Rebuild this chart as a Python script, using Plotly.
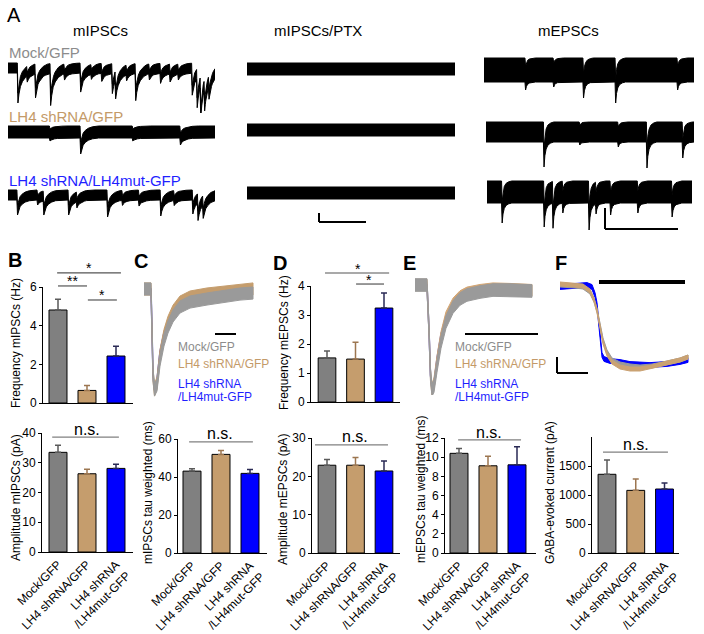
import numpy as np
import plotly.graph_objects as go

W, H = 704, 634
FONT = "Liberation Sans, Arial, Helvetica, sans-serif"

# ---------------- colours ----------------
GRAY, TAN, BLUE = "#808080", "#c59d6d", "#0000ff"
TXT_GRAY, TXT_TAN, TXT_BLUE = "#8c8c8c", "#c49a68", "#1f1fff"
ERR_COLORS = ["#5a5a5a", "#9c7650", "#2a2a55"]
BAR_COLORS = [GRAY, TAN, BLUE]

# ---------------- categories ----------------
GROUPS = ["Mock/GFP", "LH4 shRNA/GFP", "LH4 shRNA<br>/LH4mut-GFP"]

# ---------------- bar data ----------------
FREQ_MIPSC = [4.81, 0.65, 2.43]
FREQ_MIPSC_ERR = [0.56, 0.25, 0.51]
AMP_MIPSC = [33.5, 26.3, 28.1]
AMP_MIPSC_ERR = [2.4, 1.5, 1.4]
TAU_MIPSC = [43.1, 51.9, 41.9]
TAU_MIPSC_ERR = [1.3, 2.1, 2.1]
FREQ_MEPSC = [1.52, 1.48, 3.24]
FREQ_MEPSC_ERR = [0.24, 0.58, 0.52]
AMP_MEPSC = [22.9, 22.9, 21.4]
AMP_MEPSC_ERR = [1.5, 2.0, 2.6]
TAU_MEPSC = [10.4, 9.1, 9.2]
TAU_MEPSC_ERR = [0.5, 1.0, 1.9]
GABA_CURRENT = [1357, 1080, 1103]
GABA_CURRENT_ERR = [246, 195, 103]

# ---------------- panel A: event times (% of sweep) and amplitudes ----------------
MOCK_MIPSC_T = [4.5, 9, 13, 20.3, 27, 34.8, 40, 45, 50.1, 51.7, 57, 61.4, 68, 73.4, 78, 82, 88.7, 91.1, 92.8, 94.7, 96.8]
MOCK_MIPSC_A = [30, 6, 24, 32, 6, 19, 5, 8, 20, 18, 6, 27, 6, 10, 8, 6, 22, 29, 32, 22, 14]
SH_MIPSC_T = [20, 34.8, 60, 83]
SH_MIPSC_A = [3, 16, 3, 7]
RES_MIPSC_T = [4.3, 14, 17, 29, 33, 47.8, 55, 63, 73.5, 80, 89, 91.5, 94]
RES_MIPSC_A = [15, 5, 14, 15, 6, 17, 5, 6, 16, 5, 14, 17, 13]

MOCK_PTX_T, MOCK_PTX_A = [], []
SH_PTX_T, SH_PTX_A = [], []
RES_PTX_T, RES_PTX_A = [], []

MOCK_MEPSC_T = [19.5, 32.9, 47.1, 62.4, 91.9]
MOCK_MEPSC_A = [8, 5, 16, 21, 8]
SH_MEPSC_T = [27.6, 44.8, 63.3, 77.1, 94.3]
SH_MEPSC_A = [25, 3, 5, 26, 16]
RES_MEPSC_T = [7.1, 27.6, 31.9, 36.7, 49.5, 52.9, 60, 73.3, 90]
RES_MEPSC_A = [20, 24, 25, 10, 27, 10, 12, 10, 14]

# event waveform templates (time offset, fraction of peak)
IPSC_KT = [0, 0.3, 0.8, 1.5, 2.5, 4, 6, 9]
IPSC_KA = [0, -1, -0.7, -0.45, -0.28, -0.14, -0.05, 0]
EPSC_KT = [0, 0.3, 0.7, 1.3, 2.2, 3.5, 5]
EPSC_KA = [0, -1, -0.55, -0.28, -0.12, -0.04, 0]

# ---------------- averaged traces (C, E, F), normalised ----------------
C_T = [1, 8, 9, 10, 11.5, 14, 17, 21, 25, 30, 37, 47, 64, 82, 97, 110]
C_GRAY = [0, 0, -0.406, -0.851, -1.0, -0.95, -0.703, -0.505, -0.376, -0.267, -0.178, -0.129, -0.099, -0.069, -0.05, -0.04]
C_TAN = [0, 0, -0.406, -0.851, -1.0, -0.93, -0.66, -0.46, -0.33, -0.22, -0.13, -0.08, -0.05, -0.03, -0.01, 0.0]
C_BLUE = [0, 0, -0.406, -0.851, -1.0, -0.9, -0.62, -0.43, -0.31, -0.21, -0.14, -0.1, -0.07, -0.05, -0.03, -0.02]

E_T = [1, 13, 15, 16.5, 18, 20, 23, 27, 32, 39, 46, 53, 66, 79, 96, 118]
E_GRAY = [0, 0, -0.43, -0.86, -1.0, -0.962, -0.771, -0.543, -0.352, -0.21, -0.133, -0.095, -0.067, -0.048, -0.048, -0.057]
E_TAN = [0, 0, -0.43, -0.86, -1.0, -0.94, -0.73, -0.5, -0.31, -0.18, -0.11, -0.075, -0.05, -0.035, -0.04, -0.05]
E_BLUE = [0, 0, -0.43, -0.86, -1.0, -0.93, -0.7, -0.47, -0.29, -0.17, -0.1, -0.07, -0.05, -0.04, -0.04, -0.05]

F_T = [2, 17, 25, 32, 36, 39, 42, 45, 49, 54, 62, 72, 82, 94, 109, 122, 130]
F_GRAY = [0, -0.0125, -0.025, -0.0875, -0.1875, -0.3125, -0.5, -0.6875, -0.8375, -0.9375, -0.9875, -1.0125, -1.025, -1.0125, -0.975, -0.9375, -0.9]
F_TAN = [0.0125, 0, -0.0125, -0.075, -0.1875, -0.325, -0.525, -0.7125, -0.8625, -0.9625, -1.025, -1.05, -1.05, -1.025, -0.975, -0.9375, -0.9]
F_BLUE_T = [2, 17, 29, 34, 37, 39, 41, 43, 44, 46, 52, 62, 72, 92, 109, 122, 130]
F_BLUE = [-0.025, -0.0125, 0, -0.025, -0.125, -0.25, -0.5, -0.75, -0.875, -0.925, -0.95, -0.9625, -0.9875, -1.0, -0.9875, -0.9625, -0.9375]

# =====================================================================
fig = go.Figure()
axes = {}
count = [0]


def dx(l, r):
    return [l / W, r / W]


def dy(top, bottom):
    return [1 - bottom / H, 1 - top / H]


def new_axes(xdom, ydom, xr, yr, xo=None, yo=None):
    count[0] += 1
    s = "" if count[0] == 1 else str(count[0])
    xa = dict(domain=xdom, range=xr, anchor="y" + s, visible=False, fixedrange=True, automargin=False)
    ya = dict(domain=ydom, range=yr, anchor="x" + s, visible=False, fixedrange=True, automargin=False)
    if xo:
        xa.update(xo)
    if yo:
        ya.update(yo)
    axes["xaxis" + s] = xa
    axes["yaxis" + s] = ya
    return "x" + s, "y" + s


def band(xa, ya, t, v, half, color, lw=1.0):
    t = list(t)
    up = [a + half for a in v]
    lo = [a - half for a in v]
    fig.add_trace(go.Scatter(x=t + t[::-1], y=up + lo[::-1], fill="toself", fillcolor=color,
                             mode="lines", line=dict(color=color, width=lw),
                             xaxis=xa, yaxis=ya, hoverinfo="skip"))


def event_trace(ev_t, ev_a, kt, ka):
    pts = {0.0, 100.0}
    for te in ev_t:
        for k in kt:
            if 0 <= te + k <= 100:
                pts.add(round(te + k, 3))
    ts = np.array(sorted(pts))
    v = np.zeros_like(ts)
    for te, a in zip(ev_t, ev_a):
        v += a * np.interp(ts - te, kt, ka, left=0, right=0)
    return ts.tolist(), v.tolist()


# ---------------- panel A traces ----------------
A_ROWS = [
    (8, 215, 68, MOCK_MIPSC_T, MOCK_MIPSC_A, "I", 5),
    (8, 215, 132, SH_MIPSC_T, SH_MIPSC_A, "I", 6),
    (8, 215, 195, RES_MIPSC_T, RES_MIPSC_A, "I", 5),
    (247, 455, 69, MOCK_PTX_T, MOCK_PTX_A, "I", 6),
    (247, 455, 130, SH_PTX_T, SH_PTX_A, "I", 6),
    (247, 455, 193, RES_PTX_T, RES_PTX_A, "I", 6),
    (484, 694, 70, MOCK_MEPSC_T, MOCK_MEPSC_A, "E", 12),
    (486, 694, 132, SH_MEPSC_T, SH_MEPSC_A, "E", 10),
    (487, 692, 192, RES_MEPSC_T, RES_MEPSC_A, "E", 11),
]
for l, r, c, et, ea, kind, half in A_ROWS:
    xa, ya = new_axes(dx(l, r), dy(c - 20, c + 45), [0, 100], [-45, 20])
    kt, ka = (IPSC_KT, IPSC_KA) if kind == "I" else (EPSC_KT, EPSC_KA)
    ts, v = event_trace(et, ea, kt, ka)
    band(xa, ya, ts, v, half, "black", 1.0)

# ---------------- C, E, F averaged traces ----------------
xa, ya = new_axes(dx(143, 256), dy(270, 398), [0, 113], [-1.079, 0.188])
fig.add_trace(go.Scatter(x=C_T, y=C_BLUE, mode="lines", line=dict(color="#2b2bd0", width=1.5),
                         xaxis=xa, yaxis=ya, hoverinfo="skip"))
band(xa, ya, C_T, C_TAN, 0.06, TAN)
band(xa, ya, C_T, C_GRAY, 0.06, "#9a9a9a")

xa, ya = new_axes(dx(414, 536), dy(270, 395), [0, 122], [-1.048, 0.143])
fig.add_trace(go.Scatter(x=E_T, y=E_BLUE, mode="lines", line=dict(color="#2b2bd0", width=1.5),
                         xaxis=xa, yaxis=ya, hoverinfo="skip"))
band(xa, ya, E_T, E_TAN, 0.055, "#d2a574")
band(xa, ya, E_T, E_GRAY, 0.06, "#9a9a9a")

xa, ya = new_axes(dx(558, 690), dy(278, 376), [0, 132], [-1.1375, 0.0875])
band(xa, ya, F_BLUE_T, F_BLUE, 0.03, BLUE)
band(xa, ya, F_T, F_GRAY, 0.025, "#9a9a9a")
band(xa, ya, F_T, F_TAN, 0.025, "#caa273")

# ---------------- bar panels ----------------
shapes = []
annots = []


def bar_panel(vals, errs, L, R, c0, sp, top, bottom, ymax, tickvals, labels):
    xr = [(L - c0) / sp, (R - c0) / sp]
    xo = dict(visible=True, showline=True, linecolor="black", linewidth=1, ticks="",
              showgrid=False, zeroline=False, tickvals=[0, 1, 2], ticktext=GROUPS,
              showticklabels=labels, tickangle=-45,
              tickfont=dict(size=12, color="black", family=FONT))
    yo = dict(visible=True, showline=True, linecolor="black", linewidth=1, ticks="outside",
              ticklen=3, tickwidth=1, tickcolor="black", showgrid=False, zeroline=False,
              tickvals=tickvals, tickfont=dict(size=12, color="black", family=FONT))
    xa, ya = new_axes(dx(L, R), dy(top, bottom), xr, [0, ymax], xo, yo)
    for i in range(3):
        fig.add_trace(go.Bar(x=[i], y=[vals[i]], width=0.62,
                             marker=dict(color=BAR_COLORS[i], line=dict(color="black", width=1)),
                             error_y=dict(type="data", array=[errs[i]], arrayminus=[0], symmetric=False,
                                          color=ERR_COLORS[i], thickness=1.5, width=3),
                             xaxis=xa, yaxis=ya, hoverinfo="skip"))
    return xa, ya


def sig(xa, ya, x0, x1, yd, text, tx, ty, color="#555555", size=14):
    shapes.append(dict(type="line", xref=xa, yref=ya + " domain", x0=x0, x1=x1, y0=yd, y1=yd,
                       line=dict(color=color, width=1.2)))
    annots.append(dict(xref=xa, yref=ya + " domain", x=tx, y=ty, text=text, showarrow=False,
                       font=dict(size=size, color="black", family=FONT), xanchor="center", yanchor="middle"))


xa, ya = bar_panel(FREQ_MIPSC, FREQ_MIPSC_ERR, 43, 133, 58, 29, 287, 403, 6, [0, 2, 4, 6], False)
sig(xa, ya, -0.03, 2.17, 1.121, "*", 1.07, 1.16)
sig(xa, ya, 0.0, 1.0, 1.009, "**", 0.5, 1.05)
sig(xa, ya, 1.03, 2.03, 0.888, "*", 1.5, 0.93)
xa, ya = bar_panel(AMP_MIPSC, AMP_MIPSC_ERR, 42, 133, 58, 29, 433, 552, 40, [0, 10, 20, 30, 40], True)
sig(xa, ya, -0.2, 2.1, 0.966, "n.s.", 1.0, 1.03, color="#808080", size=16)
xa, ya = bar_panel(TAU_MIPSC, TAU_MIPSC_ERR, 178, 267, 192, 29, 439, 553, 60, [0, 20, 40, 60], True)
sig(xa, ya, -0.1, 2.1, 0.974, "n.s.", 0.97, 1.05, color="#808080", size=16)
xa, ya = bar_panel(FREQ_MEPSC, FREQ_MEPSC_ERR, 311, 400, 327, 28.5, 286, 402, 4, [0, 1, 2, 3, 4], False)
sig(xa, ya, -0.07, 2.18, 1.112, "*", 1.09, 1.15)
sig(xa, ya, 1.02, 2.0, 1.017, "*", 1.47, 1.055)
xa, ya = bar_panel(AMP_MEPSC, AMP_MEPSC_ERR, 312, 400, 327, 28.5, 438, 553, 30, [0, 10, 20, 30], True)
sig(xa, ya, -0.42, 2.14, 0.94, "n.s.", 0.98, 1.01, color="#808080", size=16)
xa, ya = bar_panel(TAU_MEPSC, TAU_MEPSC_ERR, 445, 536, 459, 29, 438, 553, 12, [0, 2, 4, 6, 8, 10, 12], True)
sig(xa, ya, -0.03, 2.14, 0.983, "n.s.", 1.03, 1.05, color="#808080", size=16)
xa, ya = bar_panel(GABA_CURRENT, GABA_CURRENT_ERR, 592, 679, 607, 28.75, 437, 553, 2000, [0, 500, 1000, 1500], True)
sig(xa, ya, -0.14, 2.12, 0.87, "n.s.", 1.0, 0.935, color="#808080", size=16)


def txt(x, y, s, size=12, color="black", anchor="center", bold=False, angle=0):
    annots.append(dict(xref="paper", yref="paper", x=x / W, y=1 - y / H, text=("<b>%s</b>" % s) if bold else s,
                       showarrow=False, xanchor=anchor, yanchor="middle", textangle=angle,
                       font=dict(size=size, color=color, family=FONT)))


txt(14, 15, "A", 20, anchor="center")
txt(100, 30, "mIPSCs", 15)
txt(318, 30, "mIPSCs/PTX", 15)
txt(568, 30, "mEPSCs", 15)
txt(7, 52, "Mock/GFP", 15, TXT_GRAY, "left")
txt(7, 117, "LH4 shRNA/GFP", 15, TXT_TAN, "left")
txt(7, 180, "LH4 shRNA/LH4mut-GFP", 15, TXT_BLUE, "left")

for lx, ly, L in [(15, 260, "B"), (141, 261, "C"), (280, 263, "D"), (409, 263, "E"), (561, 263, "F")]:
    txt(lx, ly, L, 20, bold=True)

txt(16, 343, "Frequency mIPSCs (Hz)", 12, angle=-90)
txt(16, 498, "Amplitude mIPSCs (pA)", 12, angle=-90)
txt(148, 493, "mIPSCs tau weighted (ms)", 12, angle=-90)
txt(284, 343, "Frequency mEPSCs (Hz)", 12, angle=-90)
txt(283, 500, "Amplitude mEPSCs (pA)", 12, angle=-90)
txt(421, 490, "mEPSCs tau weighted (ms)", 12, angle=-90)
txt(550, 493, "GABA-evoked current (pA)", 12, angle=-90)

for lx in (176, 453):
    txt(lx, 347, "Mock/GFP", 12, TXT_GRAY, "left")
    txt(lx, 364, "LH4 shRNA/GFP", 12, TXT_TAN, "left")
    txt(lx, 384, "LH4 shRNA", 12, TXT_BLUE, "left")
    txt(lx, 397, "/LH4mut-GFP", 12, TXT_BLUE, "left")


def pline(x0, y0, x1, y1, w=2):
    shapes.append(dict(type="line", xref="paper", yref="paper", x0=x0 / W, x1=x1 / W,
                       y0=1 - y0 / H, y1=1 - y1 / H, line=dict(color="black", width=w)))


pline(319, 213, 319, 222)
pline(319, 222, 366, 222)
pline(605, 208, 605, 229)
pline(605, 229, 678, 229)
pline(215, 334, 236, 334)
pline(465, 334, 538, 334)
pline(557, 357, 557, 373)
pline(557, 373, 588, 373)
pline(599, 282, 685, 282, 4)

fig.update_layout(template="none", width=W, height=H, margin=dict(l=0, r=0, t=0, b=0, pad=0),
                  paper_bgcolor="white", plot_bgcolor="rgba(0,0,0,0)",
                  showlegend=False, barmode="overlay", hovermode=False,
                  font=dict(family=FONT, color="black"),
                  shapes=shapes, annotations=annots, **axes)

fig.write_html("out.html", config={"displayModeBar": False, "staticPlot": True},
               post_script="document.body.style.margin='0px';document.body.style.padding='0px';"
                           "document.body.style.overflow='hidden';")
